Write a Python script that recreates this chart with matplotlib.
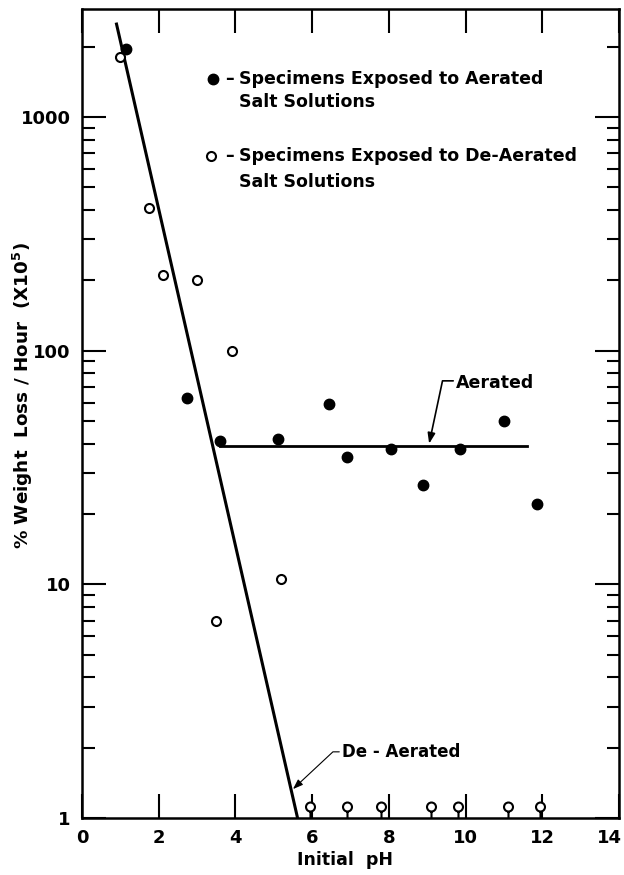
import numpy as np
import matplotlib
matplotlib.use('Agg')
from matplotlib import pyplot as plt
from matplotlib import transforms
from matplotlib.path import Path
from matplotlib.ticker import LogLocator, FuncFormatter, NullFormatter

plt.rcParams['font.family'] = ['DejaVu Sans']
plt.rcParams['font.weight'] = 'bold'
plt.rcParams['axes.labelweight'] = 'bold'

# aerated specimens (filled)
aer_ph = [1.15, 2.75, 3.6, 5.1, 6.45, 6.9, 8.05, 8.9, 9.85, 11.0, 11.85]
aer_loss = [1950, 63, 41, 42, 59, 35, 38, 26.5, 38, 50, 22]

# de-aerated specimens (open)
deaer_ph = [1.0, 1.75, 2.1, 3.0, 3.9, 5.2, 3.5]
deaer_loss = [1800, 410, 210, 200, 100, 10.5, 7]

# de-aerated, below 1 (drawn on the axis with a stem)
below_ph = [5.95, 6.9, 7.8, 9.1, 9.8, 11.1, 11.95]
below_loss = [1, 1, 1, 1, 1, 1, 1]

# fitted lines
aer_fit_ph = [3.6, 11.6]
aer_fit = [39, 39]
deaer_fit_ph = [0.9, 5.62]
deaer_fit = [2500, 1]

xticks = [0, 2, 4, 6, 8, 10, 12, 14]

fig = plt.figure(figsize=(6.24, 8.75), dpi=100)
ax = fig.add_axes([0.1314, 0.0651, 0.8606, 0.9246])

ax.plot(deaer_fit_ph, deaer_fit, color='black', lw=2.2, zorder=2)
ax.plot(aer_fit_ph, aer_fit, color='black', lw=2.0, zorder=2)

ax.plot(aer_ph, aer_loss, 'o', color='black', ms=7.5, zorder=3)
ax.plot(deaer_ph, deaer_loss, 'o', mfc='white', mec='black', mew=1.5, ms=6.5, zorder=3)

# circle sitting on a short stem
circ = Path.circle((0, 11.5), 4.5)
stem = Path([(0, 0), (0, 7)], [Path.MOVETO, Path.LINETO])
stem_marker = Path.make_compound_path(circ, stem)
ax.plot(below_ph, below_loss, linestyle='none', marker=stem_marker, ms=23,
        mfc='white', mec='black', mew=1.5, clip_on=False, zorder=3)

ax.set_yscale('log')
ax.set_xlim(0, 14)
ax.set_ylim(1, 2900)
ax.set_xticks(xticks)
ax.set_xticklabels([str(t) for t in xticks])
ax.yaxis.set_major_locator(LogLocator(base=10))
ax.yaxis.set_minor_locator(LogLocator(base=10, subs=np.arange(2, 10)))
ax.yaxis.set_major_formatter(FuncFormatter(lambda v, p: f'{v:g}'))
ax.yaxis.set_minor_formatter(NullFormatter())

ax.tick_params(which='both', direction='in', top=True, right=True, width=1.5, labelsize=13)
ax.tick_params(which='major', length=17, pad=8)
ax.tick_params(which='minor', length=9)
for s in ax.spines.values():
    s.set_linewidth(1.8)

# last x label sits against the figure edge
last = ax.get_xticklabels()[-1]
last.set_transform(last.get_transform() + transforms.ScaledTranslation(-10 / 100, 0, fig.dpi_scale_trans))

ax.set_xlabel('Initial  pH', fontsize=12.5)
ax.xaxis.set_label_coords(0.49, -0.041)
ax.set_ylabel('% Weight  Loss / Hour  (X10$^5$)', fontsize=13.2)
ax.yaxis.set_label_coords(-0.088, 0.522)

# key
fs = 12.5
ax.plot([0.244], [0.9135], 'o', color='black', ms=7.5, transform=ax.transAxes)
ax.text(0.274, 0.9135, '\u2013', transform=ax.transAxes, ha='center', va='center', fontsize=fs)
ax.text(0.292, 0.9135, 'Specimens Exposed to Aerated', transform=ax.transAxes, va='center', fontsize=fs)
ax.text(0.292, 0.885, 'Salt Solutions', transform=ax.transAxes, va='center', fontsize=fs)
ax.plot([0.24], [0.818], 'o', mfc='white', mec='black', mew=1.5, ms=6.5, transform=ax.transAxes)
ax.text(0.274, 0.818, '\u2013', transform=ax.transAxes, ha='center', va='center', fontsize=fs)
ax.text(0.292, 0.818, 'Specimens Exposed to De-Aerated', transform=ax.transAxes, va='center', fontsize=fs)
ax.text(0.292, 0.786, 'Salt Solutions', transform=ax.transAxes, va='center', fontsize=fs)

ax.annotate('Aerated', xy=(9.05, 40), xytext=(9.75, 73), ha='left', va='center', fontsize=fs,
            arrowprops=dict(arrowstyle='-|>,head_length=0.5,head_width=0.18',
                            connectionstyle='angle,angleA=180,angleB=78,rad=0',
                            relpos=(0, 0.6), shrinkA=0, shrinkB=0, color='black', lw=1.2))
ax.annotate('De - Aerated', xy=(5.5, 1.33), xytext=(6.78, 1.92), ha='left', va='center', fontsize=12,
            arrowprops=dict(arrowstyle='-|>,head_length=0.5,head_width=0.18',
                            connectionstyle='angle,angleA=180,angleB=43,rad=0',
                            relpos=(0, 0.5), shrinkA=0, shrinkB=0, color='black', lw=0.8))

fig.savefig('out.png', dpi=100)
